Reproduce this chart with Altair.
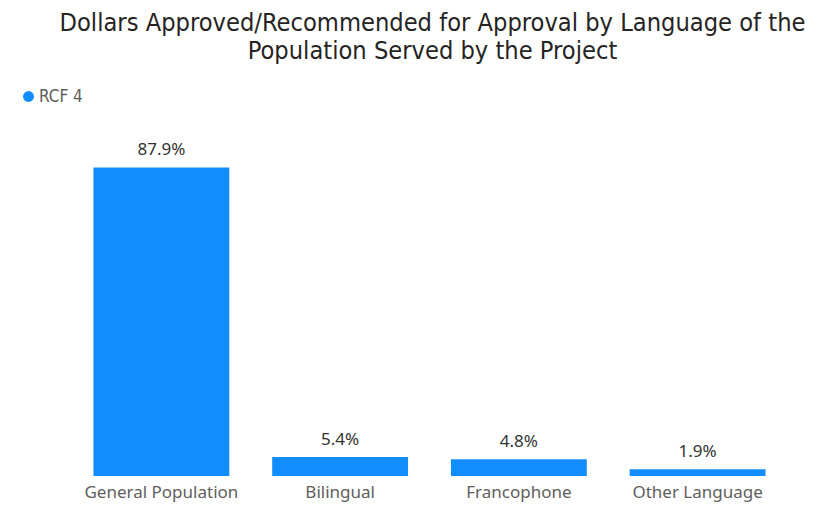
import altair as alt
import pandas as pd

categories = ["General Population", "Bilingual", "Francophone", "Other Language"]
values = [87.9, 5.4, 4.8, 1.9]
labels = ["87.9%", "5.4%", "4.8%", "1.9%"]
series = ["RCF 4", "RCF 4", "RCF 4", "RCF 4"]

df = pd.DataFrame({"cat": categories, "val": values, "lab": labels, "series": series})

x = alt.X("cat:N", sort=categories, title=None,
          scale=alt.Scale(paddingInner=0.24, paddingOuter=0.12),
          axis=alt.Axis(labelAngle=0, ticks=False, domain=False, labelPadding=8,
                        labelFontSize=17, labelColor="#605E5C", labelFont="Noto Sans",
                        labelFontWeight="normal"))
y = alt.Y("val:Q", title=None, scale=alt.Scale(domain=[0, 100], nice=False), axis=None)

bars = alt.Chart(df).mark_bar(color="#118DFF").encode(
    x=x, y=y,
    color=alt.Color("series:N", scale=alt.Scale(range=["#118DFF"]),
                    legend=alt.Legend(title=None, orient="none", legendX=-52, legendY=-37,
                                      symbolType="circle", symbolSize=120, symbolStrokeWidth=0,
                                      labelFontSize=17, labelColor="#605E5C", labelFont="DejaVu Sans Condensed",
                                      symbolOffset=0, labelOffset=2))
)
text = alt.Chart(df).mark_text(dy=-12, baseline="alphabetic", fontSize=17, color="#333333",
                               font="Noto Sans").encode(
    x=alt.X("cat:N", sort=categories), y="val:Q", text="lab:N"
)

chart = (bars + text).properties(
    width=715, height=351,
    autosize=alt.AutoSizeParams(type="none"),
    padding={"left": 64, "top": 117, "right": 36, "bottom": 30},
    title=alt.TitleParams(
        ["Dollars Approved/Recommended for Approval by Language of the",
         "Population Served by the Project"],
        font="DejaVu Sans Condensed", fontSize=25.2, fontWeight="normal", color="#252423",
        anchor="middle", lineHeight=28, offset=24, dx=3, frame="group"),
).configure_view(stroke=None)

chart.save("out.html", embed_options={"renderer": "svg", "actions": False})
